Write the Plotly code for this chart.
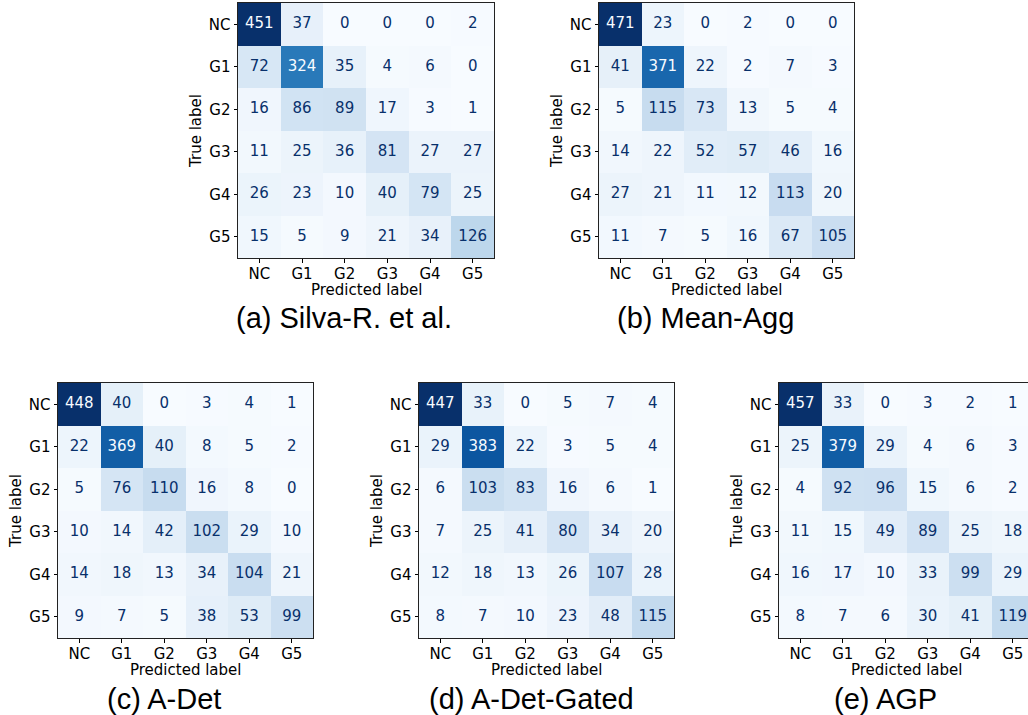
import plotly.graph_objects as go

labels = ["NC", "G1", "G2", "G3", "G4", "G5"]

cm_silva = [
    [451, 37, 0, 0, 0, 2],
    [72, 324, 35, 4, 6, 0],
    [16, 86, 89, 17, 3, 1],
    [11, 25, 36, 81, 27, 27],
    [26, 23, 10, 40, 79, 25],
    [15, 5, 9, 21, 34, 126],
]
cm_mean_agg = [
    [471, 23, 0, 2, 0, 0],
    [41, 371, 22, 2, 7, 3],
    [5, 115, 73, 13, 5, 4],
    [14, 22, 52, 57, 46, 16],
    [27, 21, 11, 12, 113, 20],
    [11, 7, 5, 16, 67, 105],
]
cm_adet = [
    [448, 40, 0, 3, 4, 1],
    [22, 369, 40, 8, 5, 2],
    [5, 76, 110, 16, 8, 0],
    [10, 14, 42, 102, 29, 10],
    [14, 18, 13, 34, 104, 21],
    [9, 7, 5, 38, 53, 99],
]
cm_adet_gated = [
    [447, 33, 0, 5, 7, 4],
    [29, 383, 22, 3, 5, 4],
    [6, 103, 83, 16, 6, 1],
    [7, 25, 41, 80, 34, 20],
    [12, 18, 13, 26, 107, 28],
    [8, 7, 10, 23, 48, 115],
]
cm_agp = [
    [457, 33, 0, 3, 2, 1],
    [25, 379, 29, 4, 6, 3],
    [4, 92, 96, 15, 6, 2],
    [11, 15, 49, 89, 25, 18],
    [16, 17, 10, 33, 99, 29],
    [8, 7, 6, 30, 41, 119],
]

captions = ["(a) Silva-R. et al.", "(b) Mean-Agg", "(c) A-Det", "(d) A-Det-Gated", "(e) AGP"]
matrices = [cm_silva, cm_mean_agg, cm_adet, cm_adet_gated, cm_agp]
x_title = "Predicted label"
y_title = "True label"

W, H = 1028, 715
# panel boxes in pixels: left, right, top, bottom
boxes = [
    (238, 494, 3, 258),
    (599, 854, 3, 258),
    (58, 313, 383, 638),
    (419, 674, 383, 638),
    (779, 1034, 383, 638),
]
caption_pos = [(344, 318), (705, 318), (164, 699), (531, 699), (885, 699)]

blues = ["#f7fbff", "#deebf7", "#c6dbef", "#9ecae1", "#6baed6",
         "#4292c6", "#2171b5", "#08519c", "#08306b"]
colorscale = [[i / 8, c] for i, c in enumerate(blues)]

tick_font = dict(family="DejaVu Sans", size=15, color="black")
title_font = dict(family="DejaVu Sans", size=15, color="black")

fig = go.Figure()
layout = {}
annotations = []
idx = list(range(6))
for k, (cm, box) in enumerate(zip(matrices, boxes)):
    n = "" if k == 0 else str(k + 1)
    xa, ya = "x" + n, "y" + n
    l, r, t, b = box
    zmax = max(max(row) for row in cm)
    zmin = min(min(row) for row in cm)
    fig.add_trace(go.Heatmap(
        z=cm, x=idx, y=idx, colorscale=colorscale, zmin=zmin, zmax=zmax,
        showscale=False, xaxis=xa, yaxis=ya, hoverinfo="z"))
    thresh = (zmax + zmin) / 2
    xs, ys, txt, cols = [], [], [], []
    for i in range(6):
        for j in range(6):
            xs.append(j)
            ys.append(i)
            txt.append(str(cm[i][j]))
            cols.append("#f7fbff" if cm[i][j] > thresh else "#08306b")
    fig.add_trace(go.Scatter(
        x=xs, y=ys, text=txt, mode="text", xaxis=xa, yaxis=ya,
        textfont=dict(family="DejaVu Sans", size=15, color=cols),
        hoverinfo="skip", showlegend=False))
    right_px = min(r, W)
    x_hi = -0.5 + 6 * (right_px - l) / (r - l)
    clipped = r > W
    layout["xaxis" + n] = dict(
        domain=[l / W, right_px / W], anchor=ya, range=[-0.5, x_hi],
        tickvals=idx, ticktext=labels, ticks="outside", ticklen=3.5, tickwidth=0.8,
        tickcolor="black", tickfont=tick_font, ticklabelstandoff=-2,
        showgrid=False, zeroline=False,
        showline=True, linecolor="#222", linewidth=1, mirror=True,
        fixedrange=True)
    layout["yaxis" + n] = dict(
        domain=[1 - b / H, 1 - t / H], anchor=xa, range=[5.5, -0.5],
        tickvals=idx, ticktext=labels, ticks="outside", ticklen=3.5, tickwidth=0.8,
        tickcolor="black", tickfont=tick_font, showgrid=False, zeroline=False,
        showline=True, linecolor="#222", linewidth=1, mirror=not clipped,
        title=dict(text=y_title, font=title_font, standoff=3),
        fixedrange=True)
    # x-axis title, placed just below tick labels
    annotations.append(dict(
        text=x_title, x=2.5, y=1 - (b + 32) / H, xref=xa, yref="paper",
        xanchor="center", yanchor="middle", showarrow=False, font=title_font))
    cx, cy = caption_pos[k]
    annotations.append(dict(
        text=captions[k], x=cx / W, y=1 - cy / H, xref="paper", yref="paper",
        xanchor="center", yanchor="middle", showarrow=False,
        font=dict(family="Liberation Sans", size=29, color="black")))

fig.update_layout(
    width=W, height=H, margin=dict(l=0, r=0, t=0, b=0),
    paper_bgcolor="white", plot_bgcolor="white",
    showlegend=False, annotations=annotations, **layout)

fig.write_html("out.html")
